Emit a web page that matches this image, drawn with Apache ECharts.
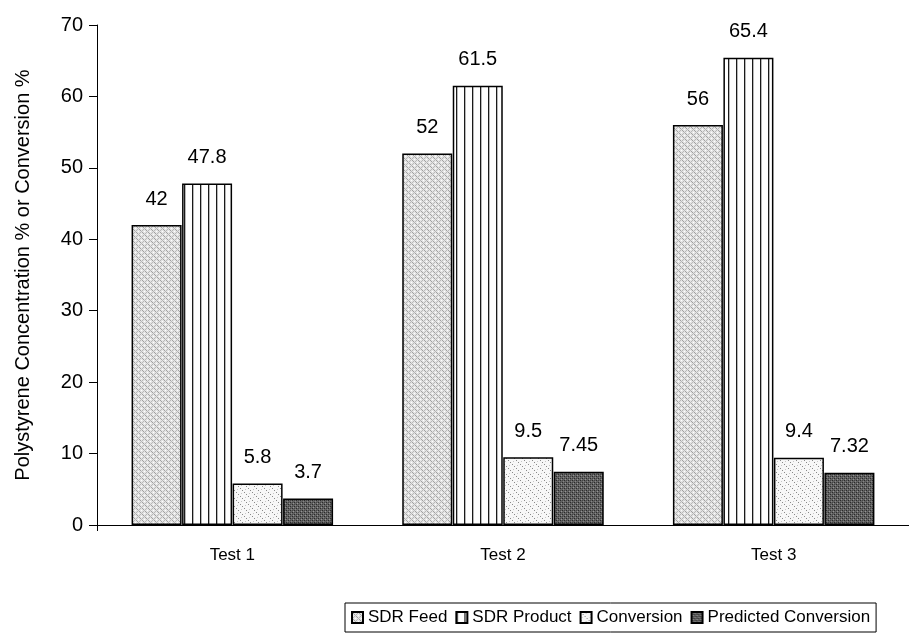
<!DOCTYPE html>
<html>
<head>
<meta charset="utf-8">
<script src="https://cdn.jsdelivr.net/npm/echarts@6/dist/echarts.min.js"></script>
<style>
  html, body { margin: 0; padding: 0; background: #ffffff; }
  #chart { width: 909px; height: 636px; }
</style>
</head>
<body>
<div id="chart"></div>
<script>
// Category labels and measured values for each series
const categories = ['Test 1', 'Test 2', 'Test 3'];
const sdrFeed = [42, 52, 56];
const sdrProduct = [47.8, 61.5, 65.4];
const conversion = [5.8, 9.5, 9.4];
const predictedConversion = [3.7, 7.45, 7.32];
const seriesNames = ['SDR Feed', 'SDR Product', 'Conversion', 'Predicted Conversion'];
const yTicks = { min: 0, max: 70, interval: 10 };

// Small tiled canvases used as hatch / stipple fills
function makePattern(w, h, bg, draw) {
  const c = document.createElement('canvas');
  c.width = w; c.height = h;
  const g = c.getContext('2d');
  g.fillStyle = bg;
  g.fillRect(0, 0, w, h);
  draw(g);
  return { image: c, repeat: 'repeat' };
}
function px(g, x, y, col) { g.fillStyle = col; g.fillRect(x, y, 1, 1); }

// light stipple cross-hatch
const feedFill = makePattern(6, 6, '#e4e4e4', g => {
  for (let i = 0; i < 6; i++) {
    px(g, i, i, '#a0a0a0');
    px(g, (6 - i) % 6, i, '#b8b8b8');
  }
  px(g, 3, 0, '#ffffff'); px(g, 0, 3, '#ffffff');
});
// vertical lines
const productFill = makePattern(8, 1, '#ffffff', g => {
  g.fillStyle = '#1a1a1a'; g.fillRect(0, 0, 1, 1);
  g.fillStyle = '#b8b8b8'; g.fillRect(1, 0, 1, 1);
});
// sparse diagonal dots
const conversionFill = makePattern(8, 8, '#f7f7f7', g => {
  for (let i = 0; i < 8; i += 2) px(g, i, i, '#8a8a8a');
  px(g, 5, 1, '#c8c8c8'); px(g, 1, 5, '#c8c8c8');
});
// dark stipple
const predictedFill = makePattern(4, 4, '#626262', g => {
  px(g, 0, 0, '#2a2a2a'); px(g, 2, 2, '#2a2a2a');
  px(g, 1, 3, '#949494'); px(g, 3, 1, '#858585');
  px(g, 2, 0, '#444444'); px(g, 0, 2, '#444444');
});
const fills = [feedFill, productFill, conversionFill, predictedFill];
const seriesData = [sdrFeed, sdrProduct, conversion, predictedConversion];

const FONT = '"Liberation Sans", Arial, sans-serif';

const chart = echarts.init(document.getElementById('chart'), null, { renderer: 'canvas' });

chart.setOption({
  backgroundColor: '#ffffff',
  animation: false,
  textStyle: { fontFamily: FONT, color: '#000' },
  grid: { left: 97, top: 25, bottom: 111, width: 822, containLabel: false },
  legend: {
    top: 603,
    left: 345,
    data: seriesNames,
    itemWidth: 11,
    itemHeight: 11,
    itemGap: 8,
    padding: [6, 6, 6, 6],
    borderColor: '#000',
    borderWidth: 1,
    icon: 'rect',
    textStyle: { fontFamily: FONT, fontSize: 17, color: '#000', padding: [0, 0, 0, 0] }
  },
  xAxis: {
    type: 'category',
    data: categories,
    axisLine: { lineStyle: { color: '#000', width: 1 } },
    // only the origin tick, continuing the value axis below the baseline
    axisTick: { show: true, length: 6, interval: (i) => i === 0, lineStyle: { color: '#000' } },
    axisLabel: { fontFamily: FONT, fontSize: 17, color: '#000', margin: 22 }
  },
  yAxis: {
    type: 'value',
    min: yTicks.min,
    max: yTicks.max,
    interval: yTicks.interval,
    name: 'Polystyrene Concentration % or Conversion %',
    nameLocation: 'middle',
    nameGap: 64,
    nameTextStyle: { fontFamily: FONT, fontSize: 20, color: '#000' },
    axisLine: { show: true, lineStyle: { color: '#000', width: 1 } },
    axisTick: { show: true, length: 8, lineStyle: { color: '#000' } },
    splitLine: { show: false },
    axisLabel: { fontFamily: FONT, fontSize: 20, color: '#000', margin: 14 }
  },
  series: seriesNames.map((name, i) => ({
    name,
    type: 'bar',
    data: seriesData[i],
    barWidth: 50,
    barGap: '1%',
    itemStyle: { color: fills[i], borderColor: '#000', borderWidth: 1.5 },
    label: {
      show: true,
      position: 'top',
      distance: 16,
      fontFamily: FONT,
      fontSize: 20,
      color: '#000',
      formatter: p => String(p.value)
    }
  }))
});
</script>
</body>
</html>
